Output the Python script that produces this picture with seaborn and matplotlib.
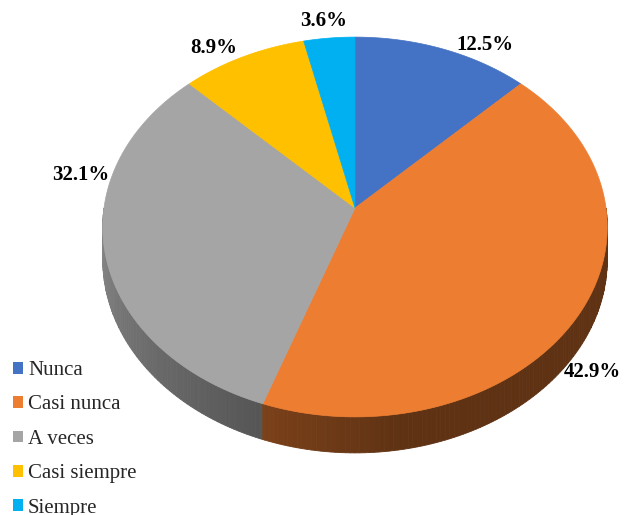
import numpy as np
import matplotlib
matplotlib.use("Agg")
import matplotlib.pyplot as plt
from matplotlib.patches import Patch
import seaborn as sns

# Survey response shares (percent)
categories = ["Nunca", "Casi nunca", "A veces", "Casi siempre", "Siempre"]
percentages = [12.5, 42.9, 32.1, 8.9, 3.6]
slice_colors = ["#4472C4", "#ED7D31", "#A5A5A5", "#FFC000", "#00B0F0"]

sns.set_theme(style="white")
plt.rcParams["font.family"] = ["Liberation Serif", "DejaVu Serif"]
palette = sns.color_palette(slice_colors)

W, H = 626, 515
fig = plt.figure(figsize=(W / 100, H / 100), dpi=100)
ax = fig.add_axes([0, 0, 1, 1])
ax.set_xlim(0, W)
ax.set_ylim(H, 0)
ax.axis("off")

# Perspective view of a tilted disk: centre, radii, foreshortening, wall depth
CX, CY, RX, RY, K, DEPTH = 355, 208, 251, 188, 0.1, 32.4


def project(theta_deg, r=1.0, drop=0.0):
    t = np.radians(theta_deg)
    u, v = r * np.cos(t), r * np.sin(t)
    w = 1 + K * v
    return CX + RX * u / w, CY - RY * v / w + drop / w


shares = np.asarray(percentages) / np.sum(percentages)
edges = 90 - 360 * np.concatenate([[0], np.cumsum(shares)])
starts, ends = edges[:-1], edges[1:]


def side_shade(theta):
    # wall is lit from the left and falls into shadow towards the front-right
    return np.interp(theta, [-180, -150, -110, -80, 0], [0.85, 0.70, 0.52, 0.40, 0.40])


# Side wall along the front half of the disk
band = np.linspace(-180, 0, 181)
band = np.unique(np.r_[band, edges[(edges > -180) & (edges < 0)]])
for a, b in zip(band[:-1], band[1:]):
    mid = 0.5 * (a + b)
    i = int(np.where((ends <= mid) & (mid <= starts))[0][0])
    col = tuple(np.clip(np.array(palette[i]) * side_shade(mid), 0, 1))
    ts = np.linspace(a, b, 3)
    xt, yt = project(ts)
    xb, yb = project(ts[::-1], drop=DEPTH)
    ax.fill(np.r_[xt, xb], np.r_[yt, yb], color=col, lw=0.6, ec=col)

# Top faces of the slices, clockwise from 12 o'clock
for i, (s, e) in enumerate(zip(starts, ends)):
    ts = np.linspace(s, e, max(int(abs(s - e) * 2), 4))
    x, y = project(ts)
    ax.fill(np.r_[CX, x], np.r_[CY, y], color=palette[i], lw=0.5, ec=palette[i])

# Percentage labels outside the slices
label_pos = [(485, 45), (592, 372), (81, 175), (214, 48), (324, 21)]
for p, (lx, ly) in zip(percentages, label_pos):
    ax.text(lx, ly, f"{p:.1f}%", ha="center", va="center",
            fontsize=15, fontweight="bold", color="black")

handles = [Patch(facecolor=palette[i], edgecolor="none", label=c)
           for i, c in enumerate(categories)]
ax.legend(handles=handles, loc="upper left", bbox_to_anchor=(13, 361),
          bbox_transform=ax.transData, frameon=False, fontsize=15,
          handlelength=0.5, handleheight=0.5, handletextpad=0.22,
          labelspacing=0.74, borderpad=0, borderaxespad=0)

fig.savefig("out.png", dpi=100)
